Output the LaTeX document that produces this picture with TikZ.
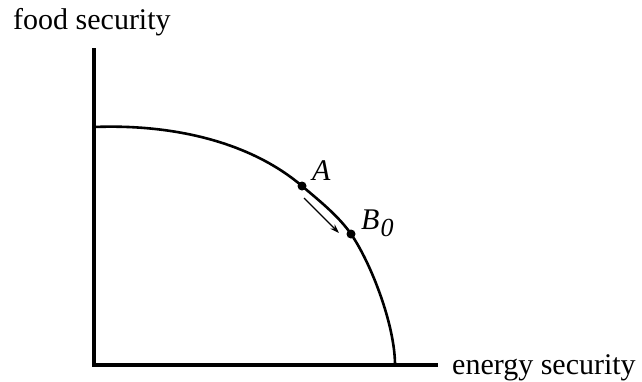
\documentclass[tikz,border=0pt]{standalone}
\usepackage{fontspec}
\setmainfont{Liberation Serif}
\usetikzlibrary{arrows.meta}
\begin{document}
\begin{tikzpicture}[x=1pt,y=-1pt,
  axisline/.style={line width=3.5pt},
  frontier/.style={line width=2.6pt},
  dotpt/.style={circle,fill=black,inner sep=0pt,minimum size=9pt},
  lbl/.style={anchor=base west,inner sep=0pt,font=\fontsize{30}{36}\selectfont},
  moveline/.style={line width=1.2pt,-{Stealth[length=9pt,width=6pt]}}]
\useasboundingbox (0,0) rectangle (642,381);
\coordinate (O) at (94,365);
\coordinate (ytop) at (94,48);
\coordinate (xend) at (438,365);
\coordinate (P0) at (94,127);
\coordinate (P3) at (395,365);
\draw[axisline,line cap=butt] (ytop) -- (O) -- (xend);
\node[dotpt] (A) at (302,186) {};
\node[dotpt] (B) at (351,234) {};
\draw[frontier] (P0) .. controls (170,124) and (248.7,140.6) .. (A.center)
  .. controls (318.8,200.3) and (338.5,215.9) .. (B.center)
  .. controls (370.9,262.8) and (395,325) .. (P3);
\coordinate (arrS) at (304,198);
\coordinate (arrE) at (339,233);
\draw[moveline] (arrS) -- (arrE);
\node[lbl] (ylab) at (13,29) {food security};
\node[lbl] (xlab) at (452,374) {energy security};
\node[lbl] (Alab) at (312,180) {\textit{A}};
\node[lbl] (Blab) at (361,229) {\textit{B}\kern1pt\raisebox{-7pt}{\fontsize{26}{30}\selectfont\textit{0}}};
\end{tikzpicture}
\end{document}
